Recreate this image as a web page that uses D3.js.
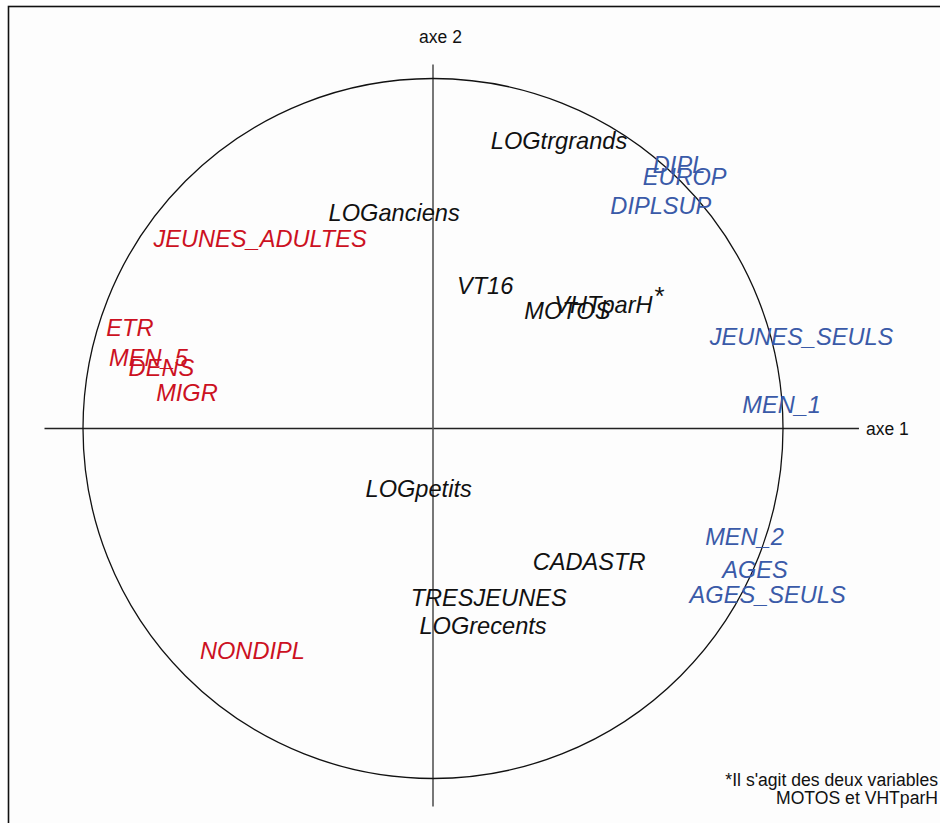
<!DOCTYPE html>
<html>
<head>
<meta charset="utf-8">
<script src="https://cdn.jsdelivr.net/npm/d3@7"></script>
<style>
  html, body { margin: 0; padding: 0; background: #fff; }
  svg { display: block; }
  text { font-family: "Liberation Sans", Arial, sans-serif; }
</style>
</head>
<body>
<svg id="chart" width="940" height="823"></svg>
<script>
// Variable names on the correlation circle (factor plane 1 x 2)
const variables = [
  "LOGtrgrands", "DIPL", "EUROP", "DIPLSUP", "LOGanciens", "JEUNES_ADULTES",
  "VT16", "MOTOS", "VHTparH", "JEUNES_SEULS", "ETR", "MEN_5", "DENS", "MIGR",
  "MEN_1", "LOGpetits", "CADASTR", "TRESJEUNES", "LOGrecents", "MEN_2",
  "AGES", "AGES_SEULS", "NONDIPL"
];
// Label coordinates on axis 1
const axis1 = [
  0.360, 0.703, 0.719, 0.651, -0.111, -0.494,
  0.149, 0.384, 0.487, 1.053, -0.866, -0.813, -0.776, -0.703,
  0.996, -0.041, 0.446, 0.159, 0.143, 0.890,
  0.920, 0.956, -0.516
];
// Label coordinates on axis 2
const axis2 = [
  0.821, 0.753, 0.719, 0.636, 0.616, 0.541,
  0.407, 0.336, 0.353, 0.261, 0.287, 0.201, 0.173, 0.101,
  0.067, -0.173, -0.381, -0.484, -0.564, -0.310,
  -0.404, -0.476, -0.636
];
// Group of each variable: "neg" (axis 1 negative side), "pos" (positive side), "mid"
const groups = [
  "mid", "pos", "pos", "pos", "mid", "neg",
  "mid", "mid", "mid", "pos", "neg", "neg", "neg", "neg",
  "pos", "mid", "mid", "mid", "mid", "pos",
  "pos", "pos", "neg"
];
const axisTitles = ["axe 1", "axe 2"];
const noteLines = ["*Il s'agit des deux variables", "MOTOS et VHTparH"];

const svg = d3.select("#chart");
const cx = 433, cy = 428.5, R = 350;

const x = d3.scaleLinear().domain([-1, 1]).range([cx - R, cx + R]);
const y = d3.scaleLinear().domain([-1, 1]).range([cy + R, cy - R]);
const color = d3.scaleOrdinal()
  .domain(["neg", "pos", "mid"])
  .range(["#cc1122", "#3a5aa8", "#111111"]);

// Frame
svg.append("rect")
  .attr("x", 8.5).attr("y", 6.5)
  .attr("width", 960).attr("height", 840)
  .attr("fill", "#fdfdfd")
  .attr("stroke", "#111").attr("stroke-width", 1.6);

// Axes
svg.append("line")
  .attr("x1", x(-1.11)).attr("x2", x(1.217))
  .attr("y1", y(0)).attr("y2", y(0))
  .attr("stroke", "#222").attr("stroke-width", 1.4);
svg.append("line")
  .attr("x1", x(0)).attr("x2", x(0))
  .attr("y1", y(1.04)).attr("y2", y(-1.08))
  .attr("stroke", "#555").attr("stroke-width", 1.6);

// Unit circle
svg.append("circle")
  .attr("cx", x(0)).attr("cy", y(0))
  .attr("r", x(1) - x(0))
  .attr("fill", "none")
  .attr("stroke", "#111").attr("stroke-width", 1.3);

// Axis titles
svg.append("text")
  .attr("x", x(1.217) + 7).attr("y", y(0) + 6)
  .attr("font-size", 17.5).attr("fill", "#111")
  .text(axisTitles[0]);
svg.append("text")
  .attr("x", x(0) + 7.5).attr("y", 43)
  .attr("text-anchor", "middle")
  .attr("font-size", 17.5).attr("fill", "#111")
  .text(axisTitles[1]);

// Variable labels
const labels = variables.map((name, i) => ({ name, a1: axis1[i], a2: axis2[i], g: groups[i] }));
svg.append("g")
  .selectAll("text")
  .data(labels)
  .join("text")
  .attr("x", d => x(d.a1))
  .attr("y", d => y(d.a2))
  .attr("dy", "0.35em")
  .attr("text-anchor", "middle")
  .attr("font-style", "italic")
  .attr("font-size", 23.6)
  .attr("fill", d => color(d.g))
  .text(d => d.name);

// Asterisk marking the overlapping MOTOS / VHTparH pair
svg.append("text")
  .attr("x", x(0.647)).attr("y", y(0.353))
  .attr("text-anchor", "middle")
  .attr("font-size", 26).attr("fill", "#111")
  .text("*");

// Footnote
svg.append("g")
  .selectAll("text")
  .data(noteLines)
  .join("text")
  .attr("x", 938)
  .attr("y", (d, i) => 786 + i * 17.5)
  .attr("text-anchor", "end")
  .attr("font-size", 17.6)
  .attr("fill", "#111")
  .text(d => d);
</script>
</body>
</html>
